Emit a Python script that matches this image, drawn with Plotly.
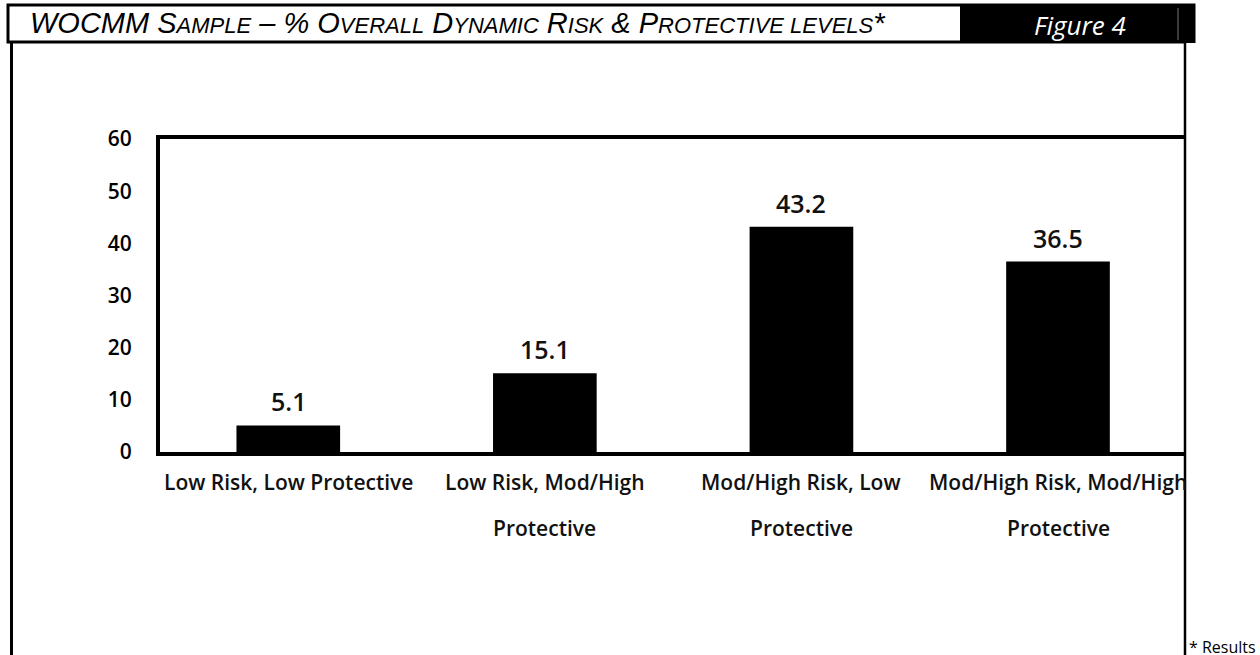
import plotly.graph_objects as go

# Survey categories and their percentages
categories = [
    "Low Risk, Low Protective",
    "Low Risk, Mod/High<br>Protective",
    "Mod/High Risk, Low<br>Protective",
    "Mod/High Risk, Mod/High<br>Protective",
]
percentages = [5.1, 15.1, 43.2, 36.5]
y_ticks = [0, 10, 20, 30, 40, 50, 60]

W, H = 1260, 655
PL, PR, PT, PB = 160, 1189, 139, 452  # plot area edges in pixels


def px(x):
    return (x - PL) / (PR - PL)


def py(y):
    return (PB - y) / (PB - PT)


LABEL_FONT = dict(family="Open Sans", size=21, color="#111111", weight=600)

fig = go.Figure()
fig.add_trace(go.Bar(
    x=categories,
    y=percentages,
    width=0.404,
    marker=dict(color="#000000", line=dict(width=0)),
    hoverinfo="skip",
))

annotations = []

# value labels above each bar
for c, v in zip(categories, percentages):
    annotations.append(dict(
        x=c, y=v, xref="x", yref="y", text=f"{v:.1f}",
        showarrow=False, yanchor="bottom", yshift=5,
        font=dict(family="Open Sans", size=25, color="#111111", weight=600),
    ))

# category labels under the axis, one annotation per line
for c in categories:
    for i, line in enumerate(c.split("<br>")):
        annotations.append(dict(
            x=c, xref="x", yref="paper", y=py(482 + i * 46),
            text=line, showarrow=False, xanchor="center", yanchor="middle",
            font=LABEL_FONT,
        ))

SMALL = '<span style="font-size:22px">'
title = (
    "WOCMM S" + SMALL + "AMPLE</span> – % O" + SMALL + "VERALL</span> D"
    + SMALL + "YNAMIC</span> R" + SMALL + "ISK</span> & P" + SMALL
    + "ROTECTIVE LEVELS</span>*"
)

annotations += [
    dict(xref="paper", yref="paper", x=px(28), y=py(23), xanchor="left", yanchor="middle",
         text=title, showarrow=False,
         font=dict(family="Liberation Sans", size=29, color="black", style="italic")),
    dict(xref="paper", yref="paper", x=px(1080), y=py(25), xanchor="center", yanchor="middle",
         text="Figure 4", showarrow=False,
         font=dict(family="Open Sans", size=26, color="white", style="italic")),
    dict(xref="paper", yref="paper", x=px(1187), y=py(647), xanchor="left", yanchor="middle",
         text="* Results", showarrow=False,
         font=dict(family="Open Sans", size=16, color="black")),
]

shapes = []
# title bar frame and black "Figure" block
shapes.append(dict(type="rect", xref="paper", yref="paper",
                   x0=px(8), x1=px(1194), y0=py(42), y1=py(5),
                   line=dict(color="black", width=3), fillcolor="white", layer="above"))
shapes.append(dict(type="rect", xref="paper", yref="paper",
                   x0=px(960), x1=px(1194), y0=py(42), y1=py(5),
                   line=dict(width=0), fillcolor="black", layer="above"))
shapes.append(dict(type="line", xref="paper", yref="paper",
                   x0=px(1178), x1=px(1178), y0=py(40), y1=py(8),
                   line=dict(color="#777777", width=1), layer="above"))
# white strip to the right of the frame
shapes.append(dict(type="rect", xref="paper", yref="paper",
                   x0=px(1186), x1=px(1262), y0=py(657), y1=py(43),
                   line=dict(width=0), fillcolor="white", layer="above"))
# outer frame sides
shapes.append(dict(type="line", xref="paper", yref="paper",
                   x0=px(11.5), x1=px(11.5), y0=py(655), y1=py(42),
                   line=dict(color="black", width=3), layer="above"))
shapes.append(dict(type="line", xref="paper", yref="paper",
                   x0=px(1185), x1=px(1185), y0=py(655), y1=py(42),
                   line=dict(color="black", width=2.5), layer="above"))

fig.update_layout(
    width=W, height=H,
    margin=dict(l=PL, r=W - PR, t=PT, b=H - PB, pad=0),
    paper_bgcolor="white", plot_bgcolor="white",
    showlegend=False,
    shapes=shapes,
    annotations=annotations,
    xaxis=dict(
        showline=True, linecolor="black", linewidth=4, mirror=True,
        showgrid=False, zeroline=False, ticks="", showticklabels=False,
        fixedrange=True,
    ),
    yaxis=dict(
        range=[0, 60], tickvals=y_ticks,
        showline=True, linecolor="black", linewidth=4, mirror=True,
        showgrid=False, zeroline=False, ticks="", ticklabelstandoff=20,
        tickfont=dict(family="Open Sans", size=21, color="black", weight=600),
        fixedrange=True,
    ),
)

fig.write_html("out.html", config={"displayModeBar": False})
